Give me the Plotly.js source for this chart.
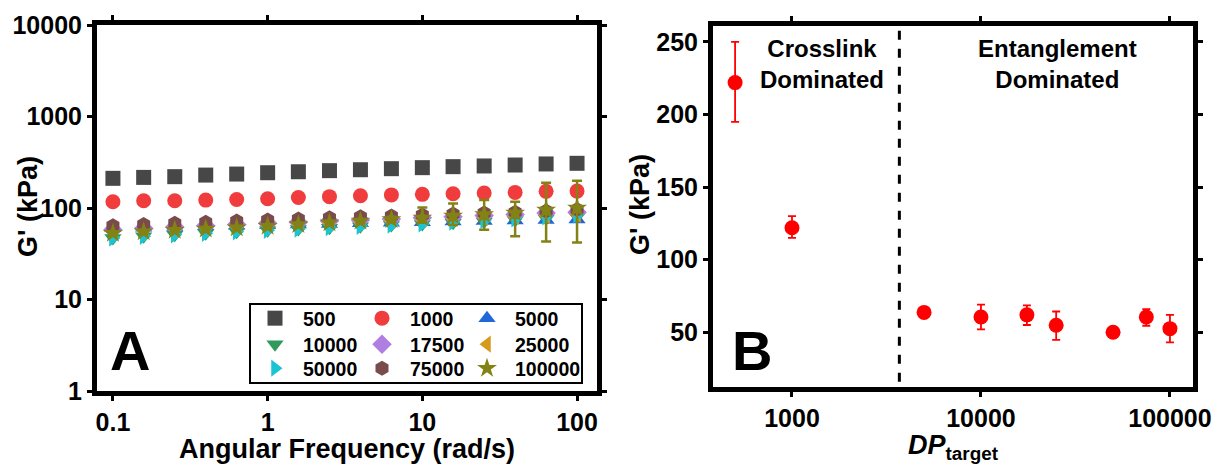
<!DOCTYPE html>
<html>
<head>
<meta charset="utf-8">
<script src="https://cdn.plot.ly/plotly-3.0.1.min.js"></script>
<style>html,body{margin:0;padding:0;background:#fff;}#chart{width:1216px;height:464px;}</style>
</head>
<body>
<div id="chart"></div>
<script>
// ---------- Panel A data ----------
const freq = [0.1, 0.158, 0.251, 0.398, 0.631, 1, 1.58, 2.51, 3.98, 6.31, 10, 15.8, 25.1, 39.8, 63.1, 100];
const seriesNames = ['500', '1000', '5000', '10000', '17500', '25000', '50000', '75000', '100000'];
const g500    = [211, 216, 220, 229, 235, 243, 249, 256, 262, 269, 276, 283, 288, 295, 303, 308];
const g1000   = [117, 120, 120, 122, 124, 126, 130, 133, 136, 139, 141, 143, 146, 148, 152, 153];
const g5000   = [60, 61, 62, 63, 64, 65, 66, 67, 68, 69, 70, 71, 72, 73, 74, 75];
const g10000  = [47, 49, 51, 53, 55, 57, 59, 61, 63, 65, 67, 69, 71, 74, 77, 80];
const g17500  = [58, 60, 62, 64, 66, 68, 70, 72, 74, 76, 78, 80, 83, 85, 88, 90];
const g25000  = [55, 57, 59, 61, 63, 65, 67, 69, 71, 73, 75, 77, 79, 81, 83, 85];
const g50000  = [47, 49, 51, 53, 55, 57, 59, 61, 63, 65, 67, 70, 73, 76, 80, 84];
const g75000  = [64, 66, 68, 70, 72, 74, 76, 78, 80, 82, 84, 86, 88, 90, 93, 96];
const g100000 = [53, 55, 57, 59, 61, 63, 66, 69, 72, 75, 78, 82, 85, 88, 95, 100];
const g100000ErrPlus  = [1, 1, 1, 1, 1, 2, 2, 3, 3, 5, 23, 30, 37, 29, 94, 99];
const g100000ErrMinus = [1, 1, 1, 1, 1, 2, 2, 3, 3, 5, 9, 17, 27, 39, 52, 58];
const xTicksA = [0.1, 1, 10, 100];
const xTickTextA = ['0.1', '1', '10', '100'];
const yTicksA = [1, 10, 100, 1000, 10000];
const yTickTextA = ['1', '10', '100', '1000', '10000'];

// ---------- Panel B data ----------
const dpTarget = [500, 1000, 5000, 10000, 17500, 25000, 50000, 75000, 100000];
const gPrime   = [222, 122, 63.7, 60.5, 62, 54.8, 50, 60.5, 52.5];
const gErrPlus  = [28, 8, 2, 8.5, 6.5, 9.5, 1.5, 5.5, 9.5];
const gErrMinus = [27, 7, 2, 8.5, 7, 10, 1.5, 6, 9.5];
const xTicksB = [1000, 10000, 100000];
const xTickTextB = ['1000', '10000', '100000'];
const yTicksB = [50, 100, 150, 200, 250];
const dividerDP = 3700;

const FONT = 'Liberation Sans, Arial, sans-serif';
const W = 1216, H = 464;
const px = v => v / W;
const py = v => 1 - v / H;

const styles = [
  {sym: 'square',         color: '#474747'},
  {sym: 'circle',         color: '#f03c3c'},
  {sym: 'triangle-up',    color: '#2068d8'},
  {sym: 'triangle-down',  color: '#2f9a5c'},
  {sym: 'diamond',        color: '#b07ee0'},
  {sym: 'triangle-left',  color: '#d49b1c'},
  {sym: 'triangle-right', color: '#1cc3d3'},
  {sym: 'hexagon',        color: '#7a4b4b'},
  {sym: 'star',           color: '#838315'}
];
const seriesVals = [g500, g1000, g5000, g10000, g17500, g25000, g50000, g75000, g100000];
const legendIds = ['legend', 'legend2', 'legend3', 'legend4', 'legend5', 'legend6', 'legend7', 'legend8', 'legend9'];

const traces = seriesVals.map((vals, i) => {
  const t = {
    x: freq, y: vals, name: seriesNames[i], type: 'scatter', mode: 'markers',
    xaxis: 'x', yaxis: 'y', legend: legendIds[i],
    marker: {symbol: styles[i].sym, color: styles[i].color, size: 15, line: {width: 0}}
  };
  if (i === 8) {
    t.error_y = {type: 'data', symmetric: false, array: g100000ErrPlus, arrayminus: g100000ErrMinus,
                 color: styles[i].color, thickness: 2.5, width: 5};
  }
  return t;
});

traces.push({
  x: dpTarget, y: gPrime, type: 'scatter', mode: 'markers', xaxis: 'x2', yaxis: 'y2',
  showlegend: false,
  marker: {symbol: 'circle', color: '#ff0000', size: 15},
  error_y: {type: 'data', symmetric: false, array: gErrPlus, arrayminus: gErrMinus,
            color: '#ff0000', thickness: 1.8, width: 4}
});

const axisCommon = {
  showline: true, linewidth: 5, linecolor: '#000', mirror: 'ticks',
  ticks: 'outside', ticklen: 5, tickwidth: 3, tickcolor: '#000',
  showgrid: false, zeroline: false,
  tickfont: {family: FONT, size: 25, color: '#000', weight: 'bold'}
};
const titleFont = {family: FONT, size: 27, color: '#000', weight: 'bold'};

const legendCommon = {
  orientation: 'v', bgcolor: 'rgba(0,0,0,0)', borderwidth: 0, itemwidth: 46,
  font: {family: FONT, size: 19.5, color: '#000', weight: 'bold'},
  xanchor: 'left', yanchor: 'top', tracegroupgap: 0
};
const legendColX = [247, 354, 459];
const legendRowTop = [299, 325, 349];

const layout = {
  width: W, height: H,
  margin: {l: 0, r: 0, t: 0, b: 0},
  paper_bgcolor: '#fff', plot_bgcolor: '#fff',
  showlegend: true,
  xaxis: Object.assign({}, axisCommon, {
    domain: [px(97), px(597)], type: 'log', range: [-1.103, 2.129], anchor: 'y',
    tickvals: xTicksA, ticktext: xTickTextA,
    title: {text: 'Angular Frequency (rad/s)', font: titleFont, standoff: 0}
  }),
  yaxis: Object.assign({}, axisCommon, {
    domain: [1 - 391 / H, 1 - 25 / H], type: 'log', range: [0, 4], anchor: 'x',
    tickvals: yTicksA, ticktext: yTickTextA
  }),
  xaxis2: Object.assign({}, axisCommon, {
    domain: [px(713), px(1193)], type: 'log', range: [2.582, 5.122], anchor: 'y2',
    tickvals: xTicksB, ticktext: xTickTextB,
    title: {text: '<i>DP</i><sub>target</sub>', font: titleFont, standoff: 0}
  }),
  yaxis2: Object.assign({}, axisCommon, {
    domain: [1 - 387 / H, 1 - 26 / H], range: [12.3, 261], anchor: 'x2',
    tickvals: yTicksB
  }),
  shapes: [
    {type: 'rect', xref: 'paper', yref: 'paper', x0: px(250), x1: px(582), y0: py(383), y1: py(304),
     line: {color: '#000', width: 2}, fillcolor: 'rgba(0,0,0,0)'},
    {type: 'line', xref: 'x2', yref: 'y2', x0: dividerDP, x1: dividerDP, y0: 16, y1: 261,
     line: {color: '#000', width: 3, dash: 'dash'}}
  ],
  annotations: [
    {text: "G' (kPa)", xref: 'paper', yref: 'paper', x: px(28), y: py(207), textangle: -90,
     xanchor: 'center', yanchor: 'middle', showarrow: false, font: titleFont},
    {text: "G' (kPa)", xref: 'paper', yref: 'paper', x: px(640), y: py(205), textangle: -90,
     xanchor: 'center', yanchor: 'middle', showarrow: false, font: titleFont},
    {text: 'A', xref: 'paper', yref: 'paper', x: px(130), y: py(350), xanchor: 'center', yanchor: 'middle',
     showarrow: false, font: {family: FONT, size: 56, color: '#000', weight: 'bold'}},
    {text: 'B', xref: 'paper', yref: 'paper', x: px(752), y: py(350), xanchor: 'center', yanchor: 'middle',
     showarrow: false, font: {family: FONT, size: 56, color: '#000', weight: 'bold'}},
    {text: 'Crosslink<br>Dominated', xref: 'paper', yref: 'paper', x: px(822), y: py(64),
     xanchor: 'center', yanchor: 'middle', showarrow: false,
     font: {family: FONT, size: 24, color: '#000', weight: 'bold'}},
    {text: 'Entanglement<br>Dominated', xref: 'paper', yref: 'paper', x: px(1057), y: py(64),
     xanchor: 'center', yanchor: 'middle', showarrow: false,
     font: {family: FONT, size: 24, color: '#000', weight: 'bold'}}
  ]
};

legendIds.forEach((id, i) => {
  const row = Math.floor(i / 3), col = i % 3;
  layout[id] = Object.assign({}, legendCommon, {x: px(legendColX[col]), y: py(legendRowTop[row])});
});

Plotly.newPlot('chart', traces, layout, {staticPlot: true, displayModeBar: false});
</script>
</body>
</html>
